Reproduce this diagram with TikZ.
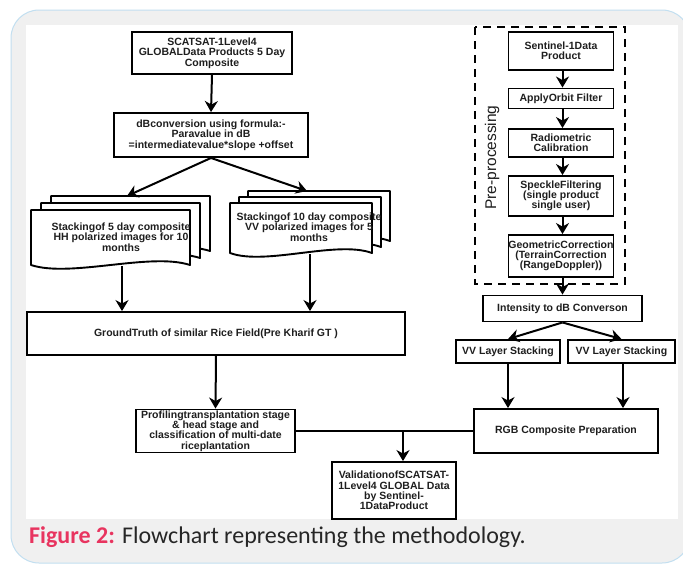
\documentclass[tikz,border=0pt]{standalone}
\usepackage{fontspec}
\setmainfont{Liberation Sans}
\newfontfamily\capfont{Carlito}
\usetikzlibrary{arrows.meta}
\definecolor{figred}{HTML}{E8345F}
\definecolor{captxt}{HTML}{262626}
\definecolor{txt}{HTML}{1E1E1E}
\definecolor{framefill}{HTML}{F0F0F0}
\definecolor{frameline}{HTML}{C2DFF0}
\newcommand{\docpage}[4]{%
  \draw[pg] (#1,#2) -- ({#1+#3},#2) -- ({#1+#3},{#2+#4})
    .. controls ({#1+0.75*#3},{#2+#4-13}) and ({#1+0.25*#3},{#2+#4+13}) .. (#1,{#2+#4}) -- cycle;}
\tikzset{
  bx/.style={draw=black, line width=1.9pt, fill=white, align=center, inner sep=0pt,
    font=\bfseries\fontsize{10.5}{10.3}\selectfont, text=txt},
  stxt/.style={align=center, inner sep=0pt, font=\bfseries\fontsize{10.5}{10.3}\selectfont, text=txt},
  arr/.style={line width=2pt, -{Stealth[length=11pt,width=13pt,inset=3.5pt]}},
  ln/.style={line width=2pt},
  pg/.style={draw=black, line width=1.9pt, fill=white, line join=round},
  dashbox/.style={draw=black, line width=2.2pt, dash pattern=on 8pt off 6pt},
}
\begin{document}
\begin{tikzpicture}[x=1pt,y=-1pt]
\useasboundingbox (0,0) rectangle (683,566);
\fill[white] (0,0) rectangle (683,566);
\draw[fill=framefill, draw=frameline, line width=1pt, rounded corners=28pt] (11,10) rectangle (690,563);
\fill[white] (26,25) rectangle (678,519);

% left column
\node[bx, minimum width=160pt, minimum height=42pt] (scat) at (212,53)
  {SCATSAT-1Level4\\GLOBALData Products 5 Day\\Composite};
\node[bx, minimum width=194pt, minimum height=44pt] (dbc) at (211,135)
  {dBconversion using formula:-\\Paravalue in dB\\=intermediatevalue*slope +offset};

% stacks
\docpage{51}{196}{159}{55}
\docpage{41}{203}{159}{55}
\docpage{31}{210}{159}{55}
\docpage{248}{191}{142}{50}
\docpage{239}{197}{142}{50}
\docpage{230}{203}{142}{50}
\node[stxt] (hh) at (121,237) {Stackingof 5 day composite\\HH polarized images for 10\\months};
\node[stxt] (vv) at (309,227) {Stackingof 10 day composite\\VV polarized images for 5\\months};
\coordinate (hhtop) at (127,196);
\coordinate (vvtop) at (307,191);
\coordinate (hhbot) at (122,266);
\coordinate (vvbot) at (310,254);

\node[bx, minimum width=378pt, minimum height=43pt] (gt) at (216,333.5)
  {GroundTruth of similar Rice Field(Pre Kharif GT )};
\node[bx, minimum width=159pt, minimum height=43pt] (prof) at (215.5,431)
  {Profilingtransplantation stage\\\& head stage and\\classification of multi-date\\riceplantation};
\node[bx, minimum width=124pt, minimum height=57pt] (val) at (394,490.5)
  {ValidationofSCATSAT-\\1Level4 GLOBAL Data\\by Sentinel-\\1DataProduct};

% right column
\draw[dashbox] (475,27) rectangle (625,284);
\node[rotate=90, inner sep=0pt, font=\fontsize{15.5}{15.5}\selectfont, text=txt] (pre) at (492,157.5) {Pre-processing};
\node[bx, minimum width=105pt, minimum height=38pt] (sent) at (561,51) {Sentinel-1Data\\Product};
\node[bx, minimum width=105pt, minimum height=20pt] (orbit) at (561,98.5) {ApplyOrbit Filter};
\node[bx, minimum width=105pt, minimum height=28pt] (radio) at (561,143) {Radiometric\\Calibration};
\node[bx, minimum width=105pt, minimum height=40pt] (speck) at (561,196) {SpeckleFiltering\\(single product\\single user)};
\node[bx, minimum width=105pt, minimum height=42pt] (geo) at (561,256) {GeometricCorrection\\(TerrainCorrection\\(RangeDoppler))};
\node[bx, minimum width=159pt, minimum height=26pt] (inten) at (562.5,308.5) {Intensity to dB Converson};
\node[bx, minimum width=104pt, minimum height=23pt] (vv1) at (508,351.5) {VV Layer Stacking};
\node[bx, minimum width=107pt, minimum height=23pt] (vv2) at (621.5,351.5) {VV Layer Stacking};
\node[bx, minimum width=184pt, minimum height=44pt] (rgb) at (566,431) {RGB Composite Preparation};

% connectors
\draw[arr] (scat.south) -- (dbc.north);
\draw[arr] (dbc.south) -- (hhtop);
\draw[arr] (dbc.south) -- (vvtop);
\draw[arr] (hhbot) -- (hhbot |- gt.north);
\draw[arr] (vvbot) -- (vvbot |- gt.north);
\draw[arr] (gt.south) -- (prof.north);
\draw[ln] (prof.east) -- (rgb.west);
\coordinate (jn) at (403,431);
\draw[arr] (jn) -- (jn |- val.north);
\coordinate (rc) at (562.5,0);
\draw[arr] (sent.south -| rc) -- (rc |- orbit.north);
\draw[arr] (orbit.south -| rc) -- (rc |- radio.north);
\draw[arr] (radio.south -| rc) -- (rc |- speck.north);
\draw[arr] (speck.south -| rc) -- (rc |- geo.north);
\draw[arr] (geo.south -| rc) -- (rc |- inten.north);
\draw[arr] (inten.south) -- (vv1.north);
\draw[arr] (inten.south) -- (vv2.north);
\coordinate (c1) at (508,0);
\coordinate (c2) at (623,0);
\draw[arr] (vv1.south -| c1) -- (c1 |- rgb.north);
\draw[arr] (vv2.south -| c2) -- (c2 |- rgb.north);

% caption
\node[anchor=base west, inner sep=0pt, font=\capfont\fontsize{24}{24}\selectfont] (cap) at (29,543)
  {\textcolor{figred}{\bfseries Figure 2:} \textcolor{captxt}{Flowchart representing the methodology.}};
\end{tikzpicture}
\end{document}
